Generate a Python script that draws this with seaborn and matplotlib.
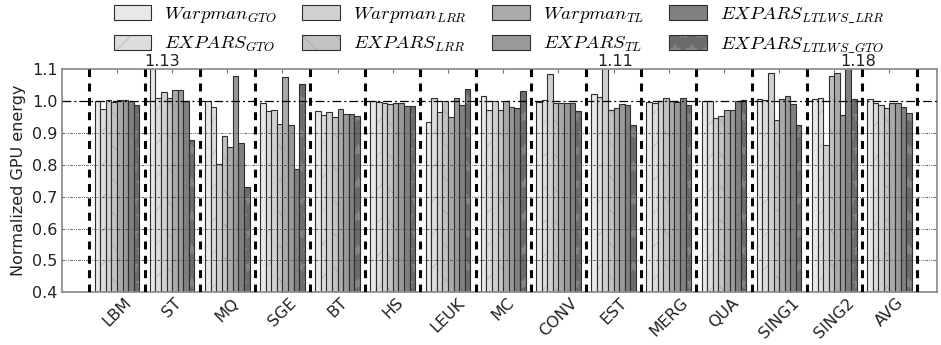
import numpy as np
import pandas as pd
import matplotlib
matplotlib.use("Agg")
import matplotlib.pyplot as plt
import matplotlib.colors as mcolors
import seaborn as sns

categories = ["LBM", "ST", "MQ", "SGE", "BT", "HS", "LEUK", "MC", "CONV",
              "EST", "MERG", "QUA", "SING1", "SING2", "AVG"]

series_labels = [r"$Warpman_{GTO}$", r"$EXPARS_{GTO}$",
                 r"$Warpman_{LRR}$", r"$EXPARS_{LRR}$",
                 r"$Warpman_{TL}$", r"$EXPARS_{TL}$",
                 r"$EXPARS_{LTLWS\_LRR}$", r"$EXPARS_{LTLWS\_GTO}$"]

warpman_gto = [1.000, 1.130, 1.000, 0.994, 0.968, 0.999, 0.934, 1.015, 0.995, 1.023, 0.998, 1.000, 1.007, 1.006, 1.006]
expars_gto = [0.975, 1.008, 0.980, 0.967, 0.956, 0.997, 1.010, 0.970, 1.002, 1.013, 0.994, 1.000, 1.002, 1.008, 0.993]
warpman_lrr = [1.003, 1.027, 0.803, 0.972, 0.966, 0.993, 0.964, 0.999, 1.083, 1.110, 0.999, 0.945, 1.086, 0.863, 0.988]
expars_lrr = [0.997, 1.010, 0.889, 0.928, 0.948, 0.989, 0.999, 0.972, 0.994, 0.973, 1.008, 0.952, 0.940, 1.078, 0.977]
warpman_tl = [1.002, 1.035, 0.857, 1.075, 0.975, 0.993, 0.948, 0.999, 0.993, 0.978, 0.999, 0.972, 1.006, 1.087, 0.994]
expars_tl = [1.002, 1.035, 1.079, 0.925, 0.958, 0.993, 1.009, 0.982, 0.993, 0.989, 0.997, 0.972, 1.016, 0.956, 0.994]
expars_ltlws_lrr = [1.000, 1.000, 0.867, 0.787, 0.958, 0.983, 0.987, 0.978, 0.994, 0.987, 1.009, 1.001, 0.989, 1.180, 0.980]
expars_ltlws_gto = [0.988, 0.876, 0.731, 1.052, 0.954, 0.983, 1.036, 1.030, 0.968, 0.923, 0.987, 1.003, 0.925, 1.006, 0.963]

series_values = [warpman_gto, expars_gto, warpman_lrr, expars_lrr,
                 warpman_tl, expars_tl, expars_ltlws_lrr, expars_ltlws_gto]

colors = ["#e8e8e8", "#dddddd", "#d0d0d0", "#c3c3c3",
          "#aaaaaa", "#999999", "#808080", "#6b6b6b"]
hatches = [None, "/", None, "\\", None, None, None, "*"]
hatch_colors = [None, "#b5b5b5", None, "#a0a0a0", None, None, None, "#858585"]

ymin, ymax = 0.4, 1.1

rows = []
for lab, vals in zip(series_labels, series_values):
    for c, v in zip(categories, vals):
        rows.append({"cat": c, "series": lab, "value": v})
df = pd.DataFrame(rows)

plt.rcParams["mathtext.fontset"] = "cm"
plt.rcParams["font.family"] = ["DejaVu Sans"]
plt.rcParams["hatch.linewidth"] = 0.5

fig = plt.figure(figsize=(9.41, 3.45), dpi=100)
ax = fig.add_axes([0.0656, 0.1527, 0.9301, 0.6473])

sns.barplot(data=df, x="cat", y="value", hue="series", order=categories,
            hue_order=series_labels, palette=colors, saturation=1,
            width=0.81, edgecolor="#2e2e2e", linewidth=0.8, legend=False,
            ax=ax, zorder=2)

for cont, h, hc in zip(ax.containers, hatches, hatch_colors):
    for p in cont:
        if h:
            p.set_hatch(h)
            p._hatch_color = mcolors.to_rgba(hc)

ax.set_ylim(ymin, ymax)
ax.set_xlim(-1.0, 14.86)

# grid lines
for yv in [0.5, 0.6, 0.7, 0.8, 0.9]:
    ax.axhline(yv, color="#444444", lw=0.6, dashes=(3, 1.5, 1, 1.5, 1, 1.5), zorder=3)
ax.axhline(1.0, color="black", lw=0.9, dashes=(7, 2.5, 1.5, 2.5), zorder=3)

# group separators
for xv in np.arange(-0.5, len(categories), 1.0):
    ax.axvline(xv, color="black", lw=2.2, dashes=(2.6, 2.1), zorder=4)

# labels for clipped bars
for cont in ax.containers:
    for p in cont:
        v = p.get_height()
        if v > ymax:
            ax.text(p.get_x() + p.get_width() / 2 + 0.18, ymax, f"{v:.2f}",
                    ha="center", va="bottom", fontsize=11.5, color="#222222")

ax.set_yticks([0.4, 0.5, 0.6, 0.7, 0.8, 0.9, 1.0, 1.1])
ax.set_yticklabels(["0.4", "0.5", "0.6", "0.7", "0.8", "0.9", "1.0", "1.1"])
ax.set_ylabel("Normalized GPU energy", fontsize=11.5, color="#222222", labelpad=4)
ax.set_xlabel("")
ax.set_xticks(range(len(categories)))
ax.set_xticklabels(categories, rotation=45, ha="center", fontsize=11.5, color="#222222")
ax.tick_params(axis="x", direction="in", top=True, length=3, color="#777777", pad=2)
ax.tick_params(axis="y", direction="in", length=0, labelsize=11.5, labelcolor="#222222", pad=3)
for s in ax.spines.values():
    s.set_color("#888888")
    s.set_linewidth(1.2)

handles = [cont.patches[0] for cont in ax.containers]
leg = ax.legend(handles, series_labels, ncol=4, loc="lower center",
                bbox_to_anchor=(0.5, 1.03), frameon=False, fontsize=13.5,
                handlelength=2.0, handleheight=0.85, columnspacing=1.35,
                handletextpad=0.7, labelspacing=0.45, borderaxespad=0)

fig.savefig("out.png", dpi=100)
